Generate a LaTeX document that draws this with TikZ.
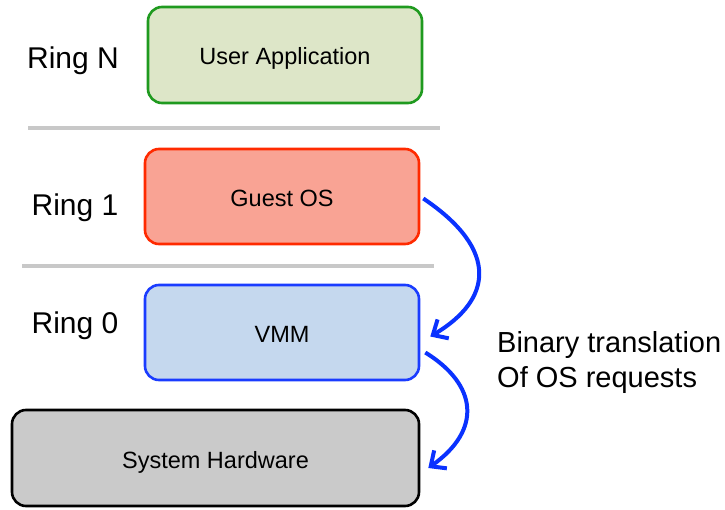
\documentclass[tikz,border=0pt]{standalone}
\usepackage{fontspec}
\setmainfont{Liberation Sans}
\usetikzlibrary{arrows.meta}
\definecolor{gfill}{HTML}{DDE6C8}
\definecolor{gline}{HTML}{1F9A1F}
\definecolor{rfill}{HTML}{F9A394}
\definecolor{rline}{HTML}{FF2A00}
\definecolor{bfill}{HTML}{C5D8EE}
\definecolor{bline}{HTML}{1A3CFF}
\definecolor{hfill}{HTML}{CACACA}
\definecolor{sep}{HTML}{C8C8C8}
\definecolor{arr}{HTML}{0A32FF}
\begin{document}
\begin{tikzpicture}[x=1pt,y=-1pt,
  layerbox/.style={draw, line width=2.6pt, rounded corners=14pt, inner sep=0pt, text height=20pt, text depth=0pt, font=\fontsize{23.5}{28}\selectfont},
  ringlabel/.style={font=\fontsize{30}{36}\selectfont, inner sep=0pt},
  seprule/.style={draw=sep, line width=4.5pt},
  bt/.style={draw=arr, line width=4pt, -{Straight Barb[length=12pt,width=22pt,line width=4pt]}}
]
\useasboundingbox (0,0) rectangle (725,510);
\node[layerbox, draw=gline, fill=gfill, minimum width=274pt, minimum height=96pt] (app) at (285,55) {User Application};
\node[layerbox, draw=rline, fill=rfill, minimum width=274pt, minimum height=95pt] (gos) at (282,196.5) {Guest OS};
\node[layerbox, draw=bline, fill=bfill, minimum width=274pt, minimum height=95pt] (vmm) at (282,332.5) {VMM};
\node[layerbox, draw=black, fill=hfill, minimum width=407pt, minimum height=96pt] (hw) at (215.5,458) {System Hardware};
\node[ringlabel] (rn) at (73,60.5) {Ring N};
\node[ringlabel] (r1) at (75,208) {Ring 1};
\node[ringlabel] (r0) at (75,326) {Ring 0};
\coordinate (s1a) at (28,128); \coordinate (s1b) at (440,128);
\coordinate (s2a) at (22,266); \coordinate (s2b) at (434,266);
\draw[seprule] (s1a) -- (s1b);
\draw[seprule] (s2a) -- (s2b);
\node[anchor=west, align=left, inner sep=0pt, font=\fontsize{29}{35}\selectfont] (bin) at (497,363) {Binary translation\\Of OS requests};
\draw[bt] ([shift={(3,2)}]gos.east) .. controls (500,250) and (492,300) .. ([shift={(10,4)}]vmm.east);
\draw[bt] ([shift={(5,20)}]vmm.east) .. controls (478,385) and (482,430) .. ([shift={(8,10)}]hw.east);
\end{tikzpicture}
\end{document}
